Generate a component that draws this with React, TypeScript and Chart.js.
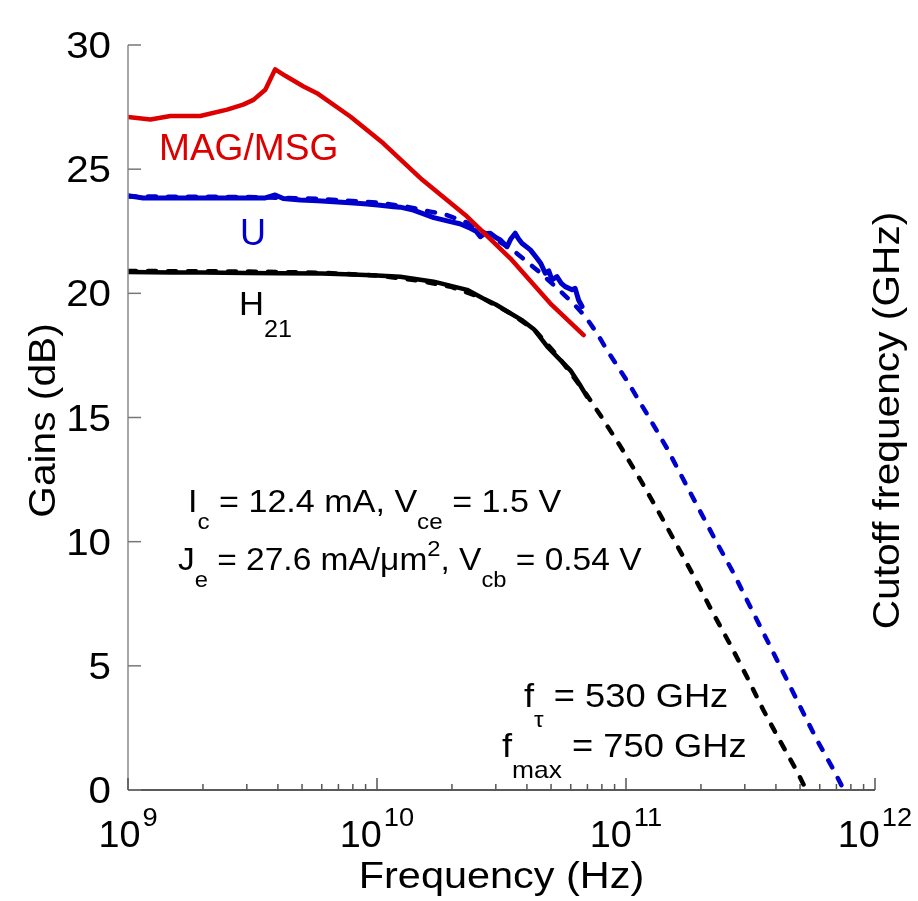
import React, { useEffect, useRef } from "react";
import { Chart, registerables } from "chart.js";

Chart.register(...registerables);

const FONT = '"Liberation Sans", Arial, Helvetica, sans-serif';

// ---- data (frequency in GHz, gain in dB) ----
const magFreq = [1.0, 1.23, 1.48, 1.95, 2.5, 2.9, 3.19, 3.56, 3.9, 4.3, 5.07, 5.74, 7.81, 10.6, 15.2, 23.0, 34.3, 49.6, 67.6];
const magGain = [27.1, 27.0, 27.14, 27.14, 27.4, 27.6, 27.79, 28.2, 29.02, 28.75, 28.33, 28.06, 27.12, 26.04, 24.57, 23.09, 21.41, 19.6, 18.32];

const uMeasFreq = [1.0, 1.15, 1.5, 2.0, 2.5, 3.0, 3.56, 3.9, 4.2, 4.92, 5.5, 6.0, 6.69, 7.5, 8.3, 9.12, 10.3, 11.66, 12.4, 14.0, 15.2, 16.9, 19.7, 21.5, 23.7, 25.0, 26.0, 27.0, 28.5, 30.0, 31.3, 33.3, 34.5, 35.9, 37.0, 38.2, 41.3, 43.9, 45.5, 47.4, 49.0, 50.4, 52.8, 55.0, 57.0, 60.7, 62.5, 64.5, 66.6];
const uMeasGain = [23.93, 23.84, 23.84, 23.84, 23.84, 23.84, 23.84, 23.96, 23.82, 23.76, 23.74, 23.72, 23.69, 23.66, 23.63, 23.6, 23.55, 23.49, 23.47, 23.35, 23.22, 23.05, 22.89, 22.8, 22.62, 22.5, 22.28, 22.4, 22.42, 22.25, 22.15, 21.88, 22.2, 22.42, 22.2, 22.02, 21.75, 21.41, 21.2, 20.81, 20.9, 20.54, 20.67, 20.4, 20.27, 20.14, 20.2, 19.73, 19.47];

const uModelFreq = [1, 3, 6, 10, 13, 16.4, 19.1, 23, 28, 35, 45, 55, 62, 68.7, 76.5, 83.8, 102.4, 123.3, 146.1, 173.1, 198.8, 232.1, 270.5, 315.6, 368.4, 429.5, 501, 584.8, 682, 750];
const uModelGain = [23.9, 23.88, 23.8, 23.65, 23.5, 23.29, 23.15, 22.85, 22.35, 21.75, 20.85, 20.05, 19.55, 19.06, 18.39, 17.72, 16.38, 15.03, 13.76, 12.35, 11.21, 9.94, 8.73, 7.38, 6.04, 4.7, 3.35, 2.01, 0.81, 0.0];

const h21MeasFreq = [1, 1.5, 2, 3, 4, 6, 8, 10, 12.4, 16.9, 23, 26.6, 30, 34.3, 38.5, 42.9, 48.3, 54.4, 59.8, 65, 69.7];
const h21MeasGain = [20.86, 20.84, 20.84, 20.82, 20.81, 20.8, 20.76, 20.72, 20.67, 20.47, 20.14, 19.8, 19.55, 19.2, 18.9, 18.53, 17.85, 17.32, 16.9, 16.35, 15.84];

const h21ModelFreq = [1, 3, 6, 10, 15, 20, 26.6, 34.3, 42.9, 48.3, 54.4, 59.8, 69.7, 78.8, 94.8, 114.1, 135.2, 160.3, 189.8, 221.5, 262.4, 306.2, 356.9, 416.7, 486.1, 530];
const h21ModelGain = [20.9, 20.88, 20.83, 20.72, 20.5, 20.25, 19.8, 19.2, 18.53, 17.95, 17.35, 16.8, 15.9, 15.1, 13.85, 12.5, 11.2, 9.85, 8.5, 7.2, 5.85, 4.55, 3.2, 1.95, 0.75, 0.0];

const yTickValues = [0, 5, 10, 15, 20, 25, 30];
const xTickValues = [1e9, 1e10, 1e11, 1e12];
const xTickExponents = ["9", "10", "11", "12"];
const xMinorMultipliers = [2, 3, 4, 5, 6, 7, 8, 9];

const RED = "#dd0000";
const BLUE = "#0000cc";
const BLACK = "#000000";

const toPoints = (f: number[], g: number[]) => f.map((v, i) => ({ x: v * 1e9, y: g[i] }));

type Seg = { t: string; size: number; dy?: number; dx?: number };

function segWidth(ctx: CanvasRenderingContext2D, segs: Seg[], sx: number) {
  let w = 0;
  for (const s of segs) {
    ctx.font = `${s.size}px ${FONT}`;
    w += (s.dx || 0) + ctx.measureText(s.t).width * sx;
  }
  return w;
}

function drawRich(ctx: CanvasRenderingContext2D, segs: Seg[], x: number, y: number, align: string, sx: number, color: string) {
  const w = segWidth(ctx, segs, sx);
  let cx = align === "left" ? x : align === "center" ? x - w / 2 : x - w;
  ctx.fillStyle = color;
  ctx.textBaseline = "alphabetic";
  ctx.textAlign = "left";
  for (const s of segs) {
    ctx.font = `${s.size}px ${FONT}`;
    cx += s.dx || 0;
    ctx.save();
    ctx.translate(cx, y + (s.dy || 0));
    ctx.scale(sx, 1);
    ctx.fillText(s.t, 0, 0);
    ctx.restore();
    cx += ctx.measureText(s.t).width * sx;
  }
}

const decorPlugin = {
  id: "decor",
  afterDraw(chart: any) {
    const { ctx, chartArea } = chart;
    const xs = chart.scales.x;
    const ys = chart.scales.y;
    const L = chartArea.left, R = chartArea.right, T = chartArea.top, B = chartArea.bottom;
    ctx.save();
    // axis lines
    ctx.lineCap = "butt";
    ctx.strokeStyle = "#8a8a8a";
    ctx.lineWidth = 1.5;
    ctx.beginPath();
    ctx.moveTo(L, T);
    ctx.lineTo(L, B);
    ctx.stroke();
    ctx.strokeStyle = "#5a5a5a";
    ctx.lineWidth = 2;
    ctx.beginPath();
    ctx.moveTo(L, B);
    ctx.lineTo(R, B);
    ctx.stroke();
    // y ticks
    ctx.strokeStyle = "#777";
    ctx.lineWidth = 1.5;
    for (const v of yTickValues) {
      const py = ys.getPixelForValue(v);
      ctx.beginPath();
      ctx.moveTo(L, py);
      ctx.lineTo(L + 13, py);
      ctx.stroke();
    }
    // x ticks
    ctx.strokeStyle = "#555";
    for (let i = 0; i < xTickValues.length; i++) {
      const px = xs.getPixelForValue(xTickValues[i]);
      ctx.beginPath();
      ctx.moveTo(px, B);
      ctx.lineTo(px, B - 12);
      ctx.stroke();
      if (i < xTickValues.length - 1) {
        for (const m of xMinorMultipliers) {
          const pm = xs.getPixelForValue(xTickValues[i] * m);
          ctx.beginPath();
          ctx.moveTo(pm, B);
          ctx.lineTo(pm, B - 6);
          ctx.stroke();
        }
      }
    }
    // y tick labels
    for (const v of yTickValues) {
      const py = ys.getPixelForValue(v);
      drawRich(ctx, [{ t: String(v), size: 37 }], L - 17, py + 13, "right", 1.09, "#000");
    }
    // x tick labels
    for (let i = 0; i < xTickValues.length; i++) {
      const px = xs.getPixelForValue(xTickValues[i]);
      drawRich(ctx, [{ t: "10", size: 36 }, { t: xTickExponents[i], size: 26, dy: -21, dx: 2 }], px, B + 57, "center", 1.05, "#000");
    }
    // axis titles
    drawRich(ctx, [{ t: "Frequency (Hz)", size: 37 }], (L + R) / 2, B + 98, "center", 1.12, "#000");
    ctx.save();
    ctx.translate(55, (T + B) / 2 + 3);
    ctx.rotate(-Math.PI / 2);
    drawRich(ctx, [{ t: "Gains (dB)", size: 37 }], 0, 0, "center", 1.1, "#000");
    ctx.restore();
    ctx.save();
    ctx.translate(899, (T + B) / 2 + 3);
    ctx.rotate(-Math.PI / 2);
    drawRich(ctx, [{ t: "Cutoff frequency (GHz)", size: 37 }], 0, 0, "center", 1.1, "#000");
    ctx.restore();
    // curve labels
    drawRich(ctx, [{ t: "MAG/MSG", size: 36 }], 159, 160, "left", 1.03, RED);
    drawRich(ctx, [{ t: "U", size: 36 }], 240, 245, "left", 1.0, BLUE);
    drawRich(ctx, [{ t: "H", size: 33 }, { t: "21", size: 24, dy: 22 }], 239, 315, "left", 1.05, "#000");
    // bias annotations
    drawRich(ctx, [
      { t: "I", size: 31 }, { t: "c", size: 22, dy: 17 },
      { t: " = 12.4 mA, V", size: 31 }, { t: "ce", size: 22, dy: 17 },
      { t: " = 1.5 V", size: 31 },
    ], 188, 512, "left", 1.1, "#000");
    drawRich(ctx, [
      { t: "J", size: 31 }, { t: "e", size: 22, dy: 17 },
      { t: " = 27.6 mA/\u03bcm", size: 31 }, { t: "2", size: 22, dy: -14 },
      { t: ", V", size: 31 }, { t: "cb", size: 22, dy: 17 },
      { t: " = 0.54 V", size: 31 },
    ], 178, 570, "left", 1.08, "#000");
    // cutoff annotations
    drawRich(ctx, [
      { t: "f", size: 33 }, { t: "\u03c4", size: 22, dy: 20 },
      { t: " = 530 GHz", size: 33 },
    ], 524, 707, "left", 1.1, "#000");
    drawRich(ctx, [
      { t: "f", size: 33 }, { t: "max", size: 24, dy: 21 },
      { t: " = 750 GHz", size: 33 },
    ], 502, 757, "left", 1.1, "#000");
    ctx.restore();
  },
};

export default function App() {
  const ref = useRef<HTMLCanvasElement>(null);
  useEffect(() => {
    if (!ref.current) return;
    const solid = (data: any, color: string, w: number) => ({
      data, borderColor: color, backgroundColor: color, borderWidth: w,
      showLine: true, pointRadius: 0, tension: 0, borderJoinStyle: "round", borderCapStyle: "round",
    });
    const dashed = (data: any, color: string, w: number) => ({
      ...solid(data, color, w), borderDash: [8, 12], borderCapStyle: "round",
    });
    const chart = new Chart(ref.current, {
      type: "scatter",
      data: {
        datasets: [
          solid(toPoints(magFreq, magGain), RED, 4.5),
          solid(toPoints(uMeasFreq, uMeasGain), BLUE, 5),
          solid(toPoints(h21MeasFreq, h21MeasGain), BLACK, 4.5),
          dashed(toPoints(uModelFreq, uModelGain), BLUE, 4.5),
          dashed(toPoints(h21ModelFreq, h21ModelGain), BLACK, 4.5),
        ] as any,
      },
      options: {
        animation: false,
        responsive: false,
        devicePixelRatio: 1,
        layout: { padding: { left: 128, right: 43, top: 45, bottom: 111 } },
        plugins: { legend: { display: false }, tooltip: { enabled: false } },
        scales: {
          x: { type: "logarithmic", min: 1e9, max: 1e12, display: false },
          y: { type: "linear", min: 0, max: 30, display: false },
        },
      },
      plugins: [decorPlugin],
    });
    return () => chart.destroy();
  }, []);
  return (
    <div style={{ position: "absolute", left: 0, top: 0, width: 918, height: 901, background: "#fff" }}>
      <canvas ref={ref} width={918} height={901} style={{ display: "block" }} />
    </div>
  );
}
